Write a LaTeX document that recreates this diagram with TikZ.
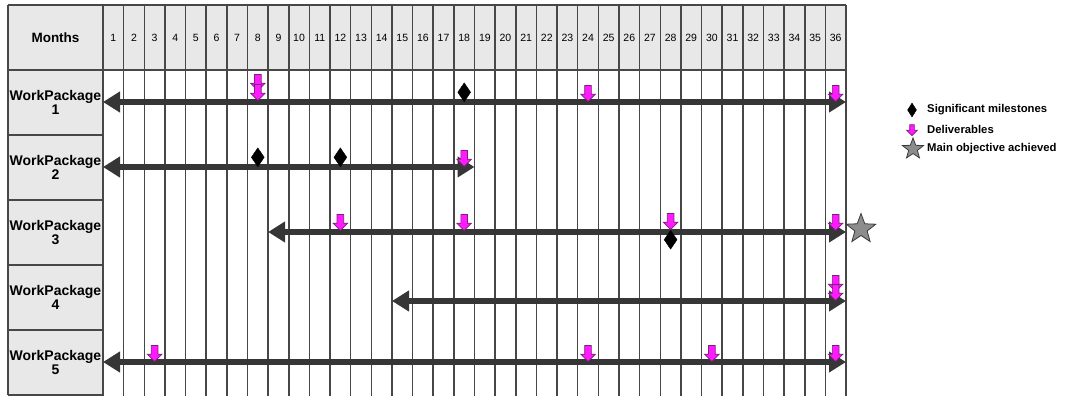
\documentclass[tikz,border=0pt]{standalone}
\usepackage{fontspec}
\setmainfont{Liberation Sans}
\usepackage{tikz}
\usetikzlibrary{arrows.meta,positioning,shapes.geometric,shapes.arrows}
\definecolor{Grid}{HTML}{474747}
\definecolor{HeadFill}{HTML}{E8E8E8}
\definecolor{Bar}{HTML}{363636}
\definecolor{Deliv}{HTML}{FF1AFF}
\definecolor{DelivEdge}{HTML}{7A1F7A}
\definecolor{Objective}{HTML}{8C8C8C}
\definecolor{ObjectiveEdge}{HTML}{3A3A3A}
\newcommand{\monthx}[1]{103+#1*20.64-10.32}
\tikzset{
  gridline/.style={draw=Grid,line width=1.5pt},
  headtext/.style={font=\bfseries\fontsize{13.5}{14}\selectfont,align=center,inner sep=0pt},
  rowlabel/.style={font=\bfseries\fontsize{14}{14.5}\selectfont,align=center,inner sep=0pt},
  monthnum/.style={font=\fontsize{10.5}{11}\selectfont,inner sep=0pt},
  keytext/.style={font=\bfseries\fontsize{11.3}{12}\selectfont,inner sep=0pt,anchor=west},
  wpbar/.style={draw=Bar,line width=5.5pt,{Triangle[length=17pt,width=20pt]}-{Triangle[length=17pt,width=20pt]}},
  milestone/.style={diamond,fill=black,draw=black,line width=.4pt,inner sep=0pt,minimum width=13pt,minimum height=19pt},
  deliverable/.style={single arrow,shape border rotate=270,draw=DelivEdge,fill=Deliv,line width=.7pt,inner sep=3pt,single arrow head extend=4pt,single arrow tip angle=90,single arrow head indent=0pt,minimum height=16pt,anchor=tip},
  objective/.style={star,star points=5,star point ratio=2.4,fill=Objective,draw=ObjectiveEdge,line width=.8pt,inner sep=0pt,minimum size=31pt}
}
\begin{document}
\begin{tikzpicture}[x=1pt,y=-1pt]
  \useasboundingbox (0,0) rectangle (1065,396);
  % table
  \fill[HeadFill] (8,5) rectangle (846,70);
  \fill[HeadFill] (8,70) rectangle (103,395);
  \foreach \i in {0,...,36}
    \draw[gridline] (103+\i*20.64,5) -- (103+\i*20.64,396);
  \draw[gridline] (8,5) -- (846,5) (8,70) -- (846,70) (8,5) -- (8,395);
  \foreach \y in {135,200,265,330,395}
    \draw[gridline] (8,\y) -- (103,\y);
  \node[headtext] (months) at (55.5,37.5) {Months};
  \foreach \m in {1,...,36}
    \node[monthnum] (m\m) at (\monthx{\m},37.5) {\m};
  \foreach \r/\yc in {1/102.5,2/167.5,3/232.5,4/297.5,5/362.5}
    \node[rowlabel] (wp\r) at (55.5,\yc) {WorkPackage\\\r};
  % work package bars
  \coordinate (s1) at (103,102);   \coordinate (e1) at (846,102);
  \coordinate (s2) at (103,167);   \coordinate (e2) at (474.5,167);
  \coordinate (s3) at (268.1,232); \coordinate (e3) at (846,232);
  \coordinate (s4) at (392,301);   \coordinate (e4) at (846,301);
  \coordinate (s5) at (103,362);   \coordinate (e5) at (846,362);
  \foreach \r in {1,...,5}
    \draw[wpbar] (s\r) -- (e\r);
  % milestones
  \node[milestone,anchor=south] (ms1a) at (\monthx{18},102) {};
  \node[milestone,anchor=south] (ms2a) at (\monthx{8},167) {};
  \node[milestone,anchor=south] (ms2b) at (\monthx{12},167) {};
  \node[milestone,anchor=north] (ms3a) at (\monthx{28},230) {};
  % deliverables
  \node[deliverable] (dl1a) at (\monthx{8},91) {};
  \node[deliverable] (dl1b) at (\monthx{8},101) {};
  \node[deliverable] (dl1c) at (\monthx{24},102) {};
  \node[deliverable] (dl1d) at (\monthx{36},102) {};
  \node[deliverable] (dl2a) at (\monthx{18},167) {};
  \node[deliverable] (dl3a) at (\monthx{12},231) {};
  \node[deliverable] (dl3b) at (\monthx{18},231) {};
  \node[deliverable] (dl3c) at (\monthx{28},230) {};
  \node[deliverable] (dl3d) at (\monthx{36},231) {};
  \node[deliverable] (dl4a) at (\monthx{36},292) {};
  \node[deliverable] (dl4b) at (\monthx{36},301) {};
  \node[deliverable] (dl5a) at (\monthx{3},362) {};
  \node[deliverable] (dl5b) at (\monthx{24},362) {};
  \node[deliverable] (dl5c) at (\monthx{30},362) {};
  \node[deliverable] (dl5d) at (\monthx{36},362) {};
  \node[objective] (goal) at (861,229) {};
  % key
  \node[milestone,minimum width=9pt,minimum height=14pt] (keyms) at (912,110) {};
  \node[deliverable,anchor=center,minimum height=11pt,inner sep=2pt,single arrow head extend=3pt] (keydl) at (912,129) {};
  \node[objective,minimum size=22pt] (keyobj) at (913,149) {};
  \node[keytext] (keymstext) at (927,110) {Significant milestones};
  \node[keytext] (keydltext) at (927,129) {Deliverables};
  \node[keytext] (keyobjtext) at (927,148.5) {Main objective achieved};
\end{tikzpicture}
\end{document}
